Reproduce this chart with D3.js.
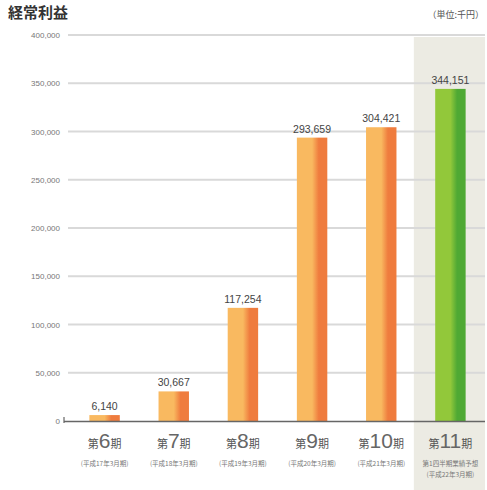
<!DOCTYPE html>
<html>
<head>
<meta charset="utf-8">
<script src="https://cdn.jsdelivr.net/npm/d3@7/dist/d3.min.js"></script>
<style>
  html, body { margin: 0; padding: 0; background: #fff; }
  svg { display: block; font-family: "Noto Sans CJK JP", "Noto Sans", sans-serif; }
</style>
</head>
<body>
<svg id="chart" width="487" height="490"></svg>
<script>
// 経常利益（単位：千円）
const periods = ["6", "7", "8", "9", "10", "11"];
const profits = [6140, 30667, 117254, 293659, 304421, 344151];
const subLabels = [
  ["(平成17年3月期)"],
  ["(平成18年3月期)"],
  ["(平成19年3月期)"],
  ["(平成20年3月期)"],
  ["(平成21年3月期)"],
  ["第1四半期業績予想", "(平成22年3月期)"]
];
const yTicks = [0, 50000, 100000, 150000, 200000, 250000, 300000, 350000, 400000];
const highlightIndex = 5;

const svg = d3.select("#chart");
const fmt = d3.format(",");

const x = d3.scaleBand().domain(periods).range([70, 485]).paddingInner(0.56).paddingOuter(0.28);
const band = d3.scaleBand().domain(periods).range([70, 485]);
const y = d3.scaleLinear().domain([0, 400000]).range([421, 35]);

// gradients: lighter left face, darker right face
const defs = svg.append("defs");
function grad(id, light, dark) {
  const g = defs.append("linearGradient").attr("id", id).attr("x1", 0).attr("x2", 1).attr("y1", 0).attr("y2", 0);
  g.append("stop").attr("offset", "0%").attr("stop-color", light);
  g.append("stop").attr("offset", "50%").attr("stop-color", light);
  g.append("stop").attr("offset", "72%").attr("stop-color", dark);
  g.append("stop").attr("offset", "100%").attr("stop-color", dark);
}
grad("gOrange", "#f9b960", "#ef7c3e");
grad("gGreen", "#92c83a", "#4fa934");

// highlighted column background
const hp = periods[highlightIndex];
svg.append("rect")
  .attr("x", band(hp) - 2).attr("y", y(400000) + 2)
  .attr("width", band.bandwidth() + 2).attr("height", 490 - y(400000))
  .attr("fill", "#ecebe3");

// title and unit
svg.append("text").attr("x", 8).attr("y", 18)
  .attr("font-size", 15).attr("font-weight", 700).attr("fill", "#333")
  .text("経常利益");
svg.append("text").attr("x", 484).attr("y", 18).attr("text-anchor", "end")
  .attr("font-size", 9).attr("fill", "#555").text("（単位:千円）");

// y axis
const yAxis = d3.axisLeft(y).tickValues(yTicks).tickSize(0).tickPadding(6).tickFormat(fmt);
const ga = svg.append("g").attr("transform", "translate(66,0)").call(yAxis);
ga.select(".domain").remove();
ga.selectAll("text").attr("font-size", 8).attr("fill", "#777").attr("font-family", "Liberation Sans, sans-serif");

// grid lines
svg.append("g").selectAll("line")
  .data(yTicks.filter(d => d > 0))
  .join("line")
  .attr("x1", 68).attr("x2", 485)
  .attr("y1", d => y(d)).attr("y2", d => y(d))
  .attr("stroke", "#d9d9d9").attr("stroke-width", 1.8);

// bars
svg.append("g").selectAll("rect")
  .data(profits)
  .join("rect")
  .attr("x", (d, i) => x(periods[i]))
  .attr("y", d => y(d))
  .attr("width", x.bandwidth())
  .attr("height", d => y(0) - y(d))
  .attr("fill", (d, i) => i === highlightIndex ? "url(#gGreen)" : "url(#gOrange)");

// baseline
svg.append("line").attr("x1", 64).attr("x2", 485).attr("y1", y(0) + 0.5).attr("y2", y(0) + 0.5)
  .attr("stroke", "#666").attr("stroke-width", 1.6);
svg.append("line").attr("x1", 64).attr("x2", 64).attr("y1", y(0) - 4).attr("y2", y(0) + 2)
  .attr("stroke", "#666").attr("stroke-width", 1.2);

// value labels
svg.append("g").selectAll("text")
  .data(profits)
  .join("text")
  .attr("x", (d, i) => x(periods[i]) + x.bandwidth() / 2)
  .attr("y", d => y(d) - 5)
  .attr("text-anchor", "middle")
  .attr("font-size", 10.5).attr("fill", "#444")
  .attr("font-family", "Liberation Sans, sans-serif")
  .text(fmt);

// category labels
const cat = svg.append("g").selectAll("text")
  .data(periods)
  .join("text")
  .attr("x", d => band(d) + band.bandwidth() / 2)
  .attr("y", 448)
  .attr("text-anchor", "middle")
  .attr("fill", "#555");
cat.append("tspan").attr("font-size", 11).text("第");
cat.append("tspan").attr("font-size", 21).attr("font-family", "Liberation Sans, sans-serif").attr("fill", "#666").text(d => d);
cat.append("tspan").attr("font-size", 11).text("期");

// sub labels
periods.forEach((p, i) => {
  subLabels[i].forEach((s, j) => {
    svg.append("text")
      .attr("x", band(p) + band.bandwidth() / 2)
      .attr("y", 466 + j * 11)
      .attr("text-anchor", "middle")
      .attr("font-size", 6.5).attr("fill", "#777")
      .text(s);
  });
});
</script>
</body>
</html>
